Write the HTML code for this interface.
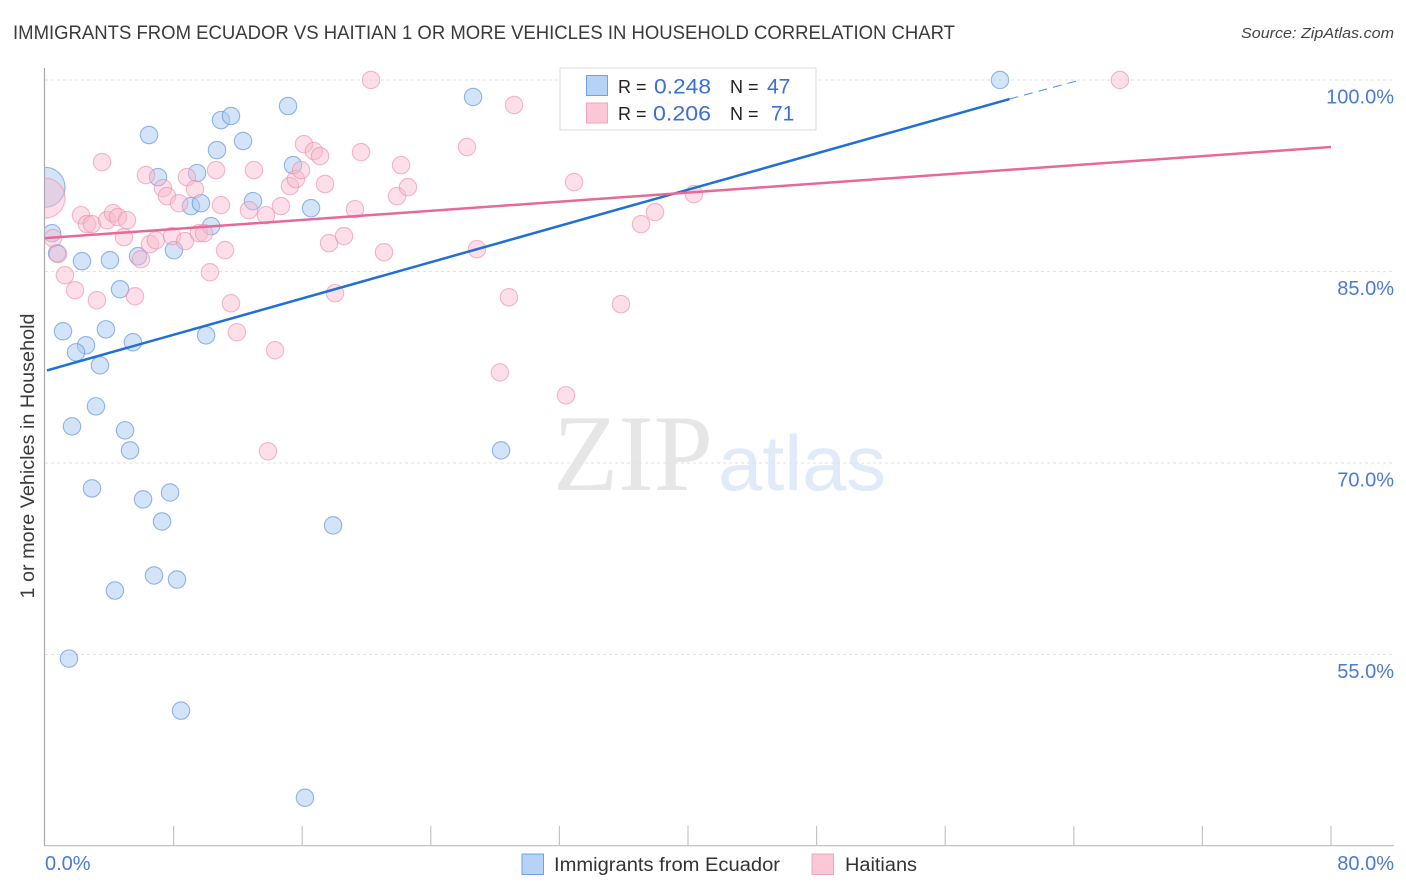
<!DOCTYPE html>
<html lang="en">
<head>
<meta charset="utf-8">
<title>Immigrants from Ecuador vs Haitian 1 or more Vehicles in Household Correlation Chart</title>
<style>
html,body{margin:0;padding:0;background:#fff;width:1406px;height:892px;overflow:hidden}
svg{display:block;font-family:"Liberation Sans",sans-serif}
</style>
</head>
<body>
<svg id="chart" xmlns="http://www.w3.org/2000/svg" width="1406" height="892" viewBox="0 0 1406 892">
  <text x="13" y="39" font-size="19" fill="#3a3a3a" textLength="942" lengthAdjust="spacingAndGlyphs">IMMIGRANTS FROM ECUADOR VS HAITIAN 1 OR MORE VEHICLES IN HOUSEHOLD CORRELATION CHART</text>
  <text x="1394" y="38" font-size="15" font-style="italic" fill="#444" text-anchor="end" textLength="153" lengthAdjust="spacingAndGlyphs">Source: ZipAtlas.com</text>
  <g>
    <text x="553" y="490" font-family="'Liberation Serif',serif" font-size="109" fill="#e6e6e6" textLength="160" lengthAdjust="spacingAndGlyphs">ZIP</text>
    <text x="718" y="490" font-size="78" fill="#e0eaf8" textLength="168" lengthAdjust="spacingAndGlyphs">atlas</text>
  </g>
  <g id="grid"></g>
  <g id="points"></g>
  <rect x="0" y="60" width="45" height="790" fill="#fff"/>
  <g id="axes"></g>
  <g id="trends"></g>
  <text transform="translate(34 456) rotate(-90)" font-size="19" fill="#3a3a3a" text-anchor="middle" textLength="285" lengthAdjust="spacingAndGlyphs">1 or more Vehicles in Household</text>
  <g>
    <rect x="560" y="68" width="256" height="62" fill="#fff" fill-opacity="0.9" stroke="#ddd" stroke-width="1"/>
    <rect x="586.5" y="75.5" width="21" height="20" fill="#b6d2f6" stroke="#6fa3e4"/>
    <text x="618" y="93" font-size="18" fill="#222">R =</text>
    <text x="654" y="93.500" font-size="21" fill="#3a70cf" textLength="57" lengthAdjust="spacingAndGlyphs">0.248</text>
    <text x="730" y="93" font-size="18" fill="#222">N =</text>
    <text x="767" y="93.500" font-size="21" fill="#3a70cf">47</text>
    <rect x="586.500" y="103" width="21" height="20" fill="#fcc8d8" stroke="#f4a3bd"/>
    <text x="618" y="120" font-size="18" fill="#222">R =</text>
    <text x="653" y="120.500" font-size="21" fill="#3a70cf" textLength="58" lengthAdjust="spacingAndGlyphs">0.206</text>
    <text x="730" y="120" font-size="18" fill="#222">N =</text>
    <text x="771" y="120.500" font-size="21" fill="#3a70cf">71</text>
  </g>
  <g>
    <rect x="522" y="854" width="21.500" height="20.500" fill="#b6d2f6" stroke="#6fa3e4"/>
    <text x="554" y="871" font-size="19" fill="#333" textLength="226" lengthAdjust="spacingAndGlyphs">Immigrants from Ecuador</text>
    <rect x="812" y="854" width="21.500" height="20.500" fill="#fcc8d8" stroke="#f4a3bd"/>
    <text x="845" y="871" font-size="19" fill="#333" textLength="72" lengthAdjust="spacingAndGlyphs">Haitians</text>
  </g>
</svg>
<script>
const xTicks = [0, 8, 16, 24, 32, 40, 48, 56, 64, 72, 80];
const yGridValues = [100, 85, 70, 55];
const yTickLabels = ["100.0%", "85.0%", "70.0%", "55.0%"];
const xEndLabels = ["0.0%", "80.0%"];

const ecuadorX = [0, 0.44, 0.75, 2.30, 4.04, 5.79, 8.02, 4.67, 1.12, 3.79, 5.47, 2.55, 1.93, 3.42, 10.02, 3.17, 1.68, 4.98, 5.29, 2.92, 6.10, 7.78, 7.28, 4.35, 6.78, 8.21, 1.49, 8.46, 16.17, 17.92, 28.37, 6.47, 10.95, 11.57, 15.12, 12.32, 10.70, 26.63, 59.41, 15.43, 9.46, 7.03, 9.08, 9.70, 12.94, 16.55, 10.33];
const ecuadorY = [91.60, 88.00, 86.43, 85.81, 85.89, 86.20, 86.67, 83.61, 80.32, 80.47, 79.46, 79.22, 78.67, 77.65, 80.00, 74.44, 72.87, 72.56, 70.99, 68.01, 67.15, 67.69, 65.42, 60.01, 61.19, 60.87, 54.68, 50.60, 43.78, 65.11, 70.99, 95.69, 96.86, 97.18, 97.96, 95.22, 94.51, 98.67, 100, 93.33, 92.71, 92.39, 90.12, 90.35, 90.51, 89.96, 88.55];

const haitianX = [0, 0.50, 0.81, 1.24, 1.87, 3.23, 5.60, 3.55, 2.24, 2.61, 2.92, 3.86, 4.23, 4.54, 5.10, 4.91, 5.97, 6.53, 6.90, 6.28, 7.34, 7.59, 8.34, 7.90, 8.71, 8.83, 9.33, 9.58, 9.89, 10.64, 10.95, 11.20, 10.26, 11.57, 11.94, 12.69, 13.00, 13.75, 14.68, 15.24, 15.61, 15.93, 16.11, 16.73, 17.11, 17.42, 17.67, 18.60, 18.04, 14.31, 13.87, 19.28, 19.66, 20.28, 21.09, 21.90, 22.15, 22.58, 26.25, 26.87, 28.86, 28.30, 29.18, 32.41, 32.91, 35.83, 37.08, 37.95, 40.37, 38.82, 66.87];
const haitianY = [90.75, 87.61, 86.36, 84.71, 83.53, 82.75, 83.06, 93.57, 89.41, 88.71, 88.71, 89.02, 89.57, 89.26, 89.02, 87.69, 85.96, 87.14, 87.45, 92.55, 91.53, 90.90, 90.35, 87.77, 87.38, 92.39, 91.45, 88.00, 88.00, 92.94, 90.20, 86.67, 84.94, 82.51, 80.24, 89.81, 92.94, 89.41, 90.12, 91.69, 92.24, 92.94, 94.98, 94.43, 94.04, 91.85, 87.22, 87.77, 83.30, 78.83, 70.91, 89.88, 94.35, 100, 86.51, 90.90, 93.33, 91.61, 94.75, 86.75, 82.98, 77.10, 98.04, 75.30, 92.00, 82.44, 88.71, 89.65, 91.06, 98.82, 100];

const ecuadorTrendX = [0.12, 60];
const ecuadorTrendY = [77.25, 98.51];
const ecuadorTrendDashX = [60, 64.4];
const ecuadorTrendDashY = [98.51, 100];
const haitianTrendX = [0, 80];
const haitianTrendY = [87.61, 94.75];

const NS = "http://www.w3.org/2000/svg";
const xScale = v => 45 + v * (1331 - 45) / 80;
const yScale = v => 80 + (100 - v) * (846 - 80) / 60;

function make(tag, attrs, parent) {
  const el = document.createElementNS(NS, tag);
  for (const k in attrs) el.setAttribute(k, attrs[k]);
  parent.appendChild(el);
  return el;
}

const gridG = document.getElementById("grid");
const axesG = document.getElementById("axes");
const pointsG = document.getElementById("points");
const trendsG = document.getElementById("trends");

yGridValues.forEach((v, i) => {
  const line = make("line", {x1: 45, x2: 1394, y1: yScale(v), y2: yScale(v), stroke: "#e2e2e2", "stroke-width": 1, "stroke-dasharray": "3 3"}, gridG);
  
  
  const label = make("text", {x: 1394, y: yScale(v) + 23.5, "font-size": 20, fill: "#4a7bd4", "text-anchor": "end"}, axesG);
  label.textContent = yTickLabels[i];
  
  
});

const yAxis = make("line", {x1: 44.5, x2: 44.5, y1: 68, y2: 846, stroke: "#aaa", "stroke-width": 1.2}, axesG);


const xAxis = make("line", {x1: 44, x2: 1394, y1: 845.7, y2: 845.7, stroke: "#bbb", "stroke-width": 1.2}, axesG);



xTicks.forEach(v => {
  if (v === 0) return;
  const tick = make("line", {x1: xScale(v), x2: xScale(v), y1: 826, y2: 846, stroke: "#c4c4c4", "stroke-width": 1.2}, axesG);
  
  
});

const xLabelLeft = make("text", {x: 45, y: 870, "font-size": 20, fill: "#4a7bd4"}, axesG);
xLabelLeft.textContent = xEndLabels[0];


const xLabelRight = make("text", {x: 1394, y: 870, "font-size": 20, fill: "#4a7bd4", "text-anchor": "end"}, axesG);
xLabelRight.textContent = xEndLabels[1];



ecuadorX.forEach((v, i) => {
  const c = make("circle", {cx: xScale(v), cy: yScale(ecuadorY[i]), r: i === 0 ? 20 : 8.7, fill: "#a9c9f2", "fill-opacity": 0.5, stroke: "#5a90dc", "stroke-opacity": 0.65, "stroke-width": 1.1}, pointsG);
  
  
});
haitianX.forEach((v, i) => {
  const c = make("circle", {cx: xScale(v), cy: yScale(haitianY[i]), r: i === 0 ? 20 : 8.7, fill: "#f8b8cc", "fill-opacity": 0.45, stroke: "#ec8aa8", "stroke-opacity": 0.6, "stroke-width": 1.1}, pointsG);
  
  
});

const blueLine = make("line", {x1: xScale(ecuadorTrendX[0]), y1: yScale(ecuadorTrendY[0]), x2: xScale(ecuadorTrendX[1]), y2: yScale(ecuadorTrendY[1]), stroke: "#1f6fd6", "stroke-width": 2.5}, trendsG);


const blueDash = make("line", {x1: xScale(ecuadorTrendDashX[0]), y1: yScale(ecuadorTrendDashY[0]), x2: xScale(ecuadorTrendDashX[1]), y2: yScale(ecuadorTrendDashY[1]), stroke: "#4f8fdf", "stroke-width": 1, "stroke-dasharray": "9 6"}, trendsG);


const pinkLine = make("line", {x1: xScale(haitianTrendX[0]), y1: yScale(haitianTrendY[0]), x2: xScale(haitianTrendX[1]), y2: yScale(haitianTrendY[1]), stroke: "#e8689a", "stroke-width": 2.5}, trendsG);


</script>
</body>
</html>
